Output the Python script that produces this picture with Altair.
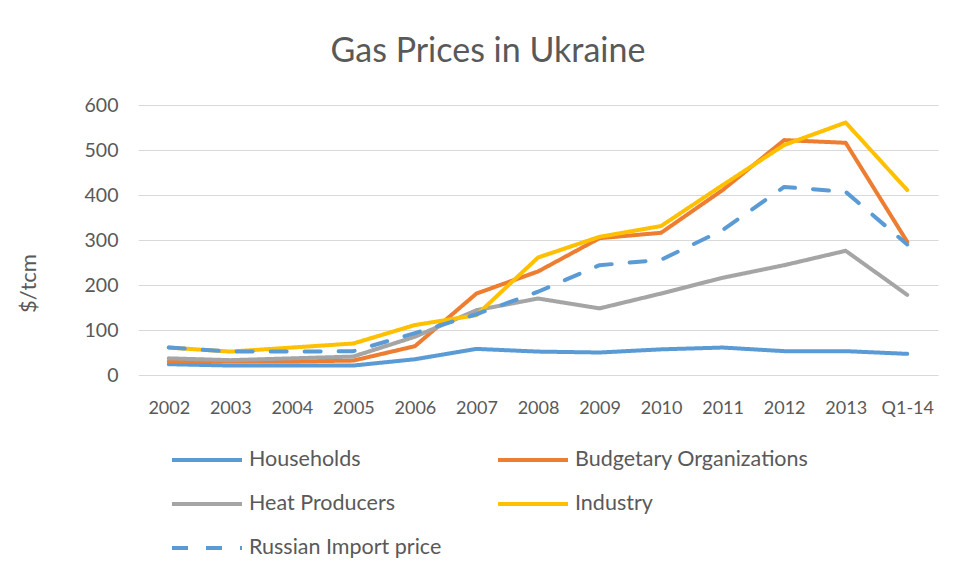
import altair as alt
import pandas as pd

categories = ["2002", "2003", "2004", "2005", "2006", "2007", "2008", "2009",
              "2010", "2011", "2012", "2013", "Q1-14"]
series_names = ["Households", "Budgetary Organizations", "Heat Producers",
                "Industry", "Russian Import price"]
households = [24, 21, 21, 21, 35, 58, 52, 50, 57, 61, 53, 53, 47]
budgetary = [30, 30, 30, 32, 64, 181, 230, 304, 316, 411, 522, 516, 296]
heat_producers = [37, 33, 37, 41, 85, 144, 170, 148, 181, 216, 244, 276, 178]
industry = [61, 52, 61, 70, 111, 133, 261, 307, 331, 422, 511, 561, 411]
russian_import = [61, 52, 52, 53, 93, 135, 185, 244, 256, 322, 418, 407, 290]

colors = ["#5B9BD5", "#ED7D31", "#A5A5A5", "#FFC000", "#5B9BD5"]
dashes = [[1, 0], [1, 0], [1, 0], [1, 0], [16, 18]]
widths = [4, 4, 4, 4, 5.5]

rows = []
for name, vals in zip(series_names, [households, budgetary, heat_producers,
                                      industry, russian_import]):
    for c, v in zip(categories, vals):
        rows.append({"cat": c, "value": v, "series": name})
df = pd.DataFrame(rows)

FONT = "Lato"
legend = alt.Legend(
    title=None, orient="none", legendX=32, legendY=343, columns=2,
    direction="horizontal",
    symbolType="stroke", symbolSize=4900, clipHeight=24, rowPadding=20,
    columnPadding=54, labelOffset=5, labelFontSize=21.5, labelFont=FONT,
    labelColor="#595959", padding=0, labelLimit=400,
)

chart = alt.Chart(df).mark_line(strokeCap="round", strokeJoin="round").encode(
    x=alt.X("cat:N", sort=categories, title=None,
            scale=alt.Scale(type="point", padding=0.5),
            axis=alt.Axis(labelAngle=0, domain=False, ticks=False, grid=False,
                          labelPadding=24, labelFontSize=18, labelFont=FONT,
                          labelColor="#595959")),
    y=alt.Y("value:Q", scale=alt.Scale(domain=[0, 600], nice=False),
            axis=alt.Axis(values=[0, 100, 200, 300, 400, 500, 600], domain=False,
                          ticks=False, gridColor="#D9D9D9", gridWidth=1,
                          labelPadding=20, labelFontSize=19.5, labelFont=FONT,
                          labelColor="#595959", title="$/tcm",
                          titleFont=FONT, titleFontSize=22, titleFontWeight="normal",
                          titleColor="#595959", titleX=-110, titleY=178,
                          titleAngle=-90, titleAlign="center",
                          titleBaseline="middle")),
    color=alt.Color("series:N", sort=series_names,
                    scale=alt.Scale(domain=series_names, range=colors),
                    legend=legend),
    strokeDash=alt.StrokeDash("series:N", sort=series_names,
                              scale=alt.Scale(domain=series_names, range=dashes),
                              legend=legend),
    strokeWidth=alt.StrokeWidth("series:N", sort=series_names,
                                scale=alt.Scale(domain=series_names, range=widths),
                                legend=legend),
).properties(
    width=800, height=270,
    title=alt.TitleParams("Gas Prices in Ukraine", font=FONT, fontSize=34,
                          fontWeight="normal", color="#595959", anchor="middle",
                          frame="group", dx=-50, offset=26),
    autosize=alt.AutoSizeParams(type="none"),
    padding={"left": 130, "top": 97, "right": 5, "bottom": 190},
).configure_view(stroke=None)

chart.save("out.html", embed_options={"renderer": "svg", "actions": False})
